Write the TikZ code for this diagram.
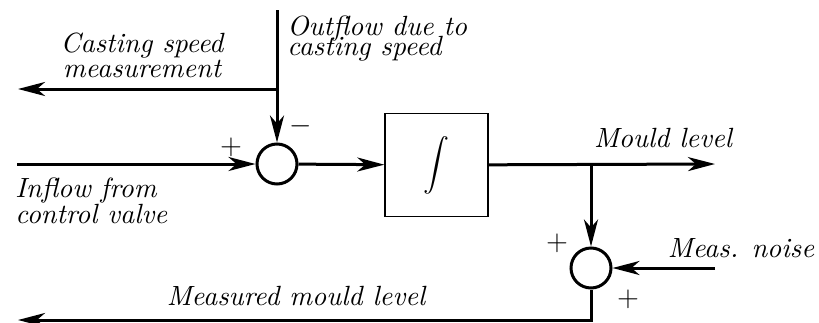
\documentclass[tikz,border=0pt]{standalone}
\usepackage{amsmath}
\usepackage{amssymb}
\usepackage{fontspec}
\usepackage{tikz}
\usetikzlibrary{arrows.meta, shapes, positioning, calc}
\newfontfamily\lblfont{lmroman10-italic.otf}

\begin{document}
\begin{tikzpicture}[x=0.5pt, y=-0.5pt,
  sig/.style={line width=1.5pt, -{Stealth[length=13.5pt,width=7pt,inset=4pt]}},
  sumnode/.style={circle, draw, line width=1.5pt, minimum size=20pt, inner sep=0pt},
  intbox/.style={draw, line width=0.7pt, minimum size=51.5pt, inner sep=0pt, font=\fontsize{13}{15}\selectfont},
  lbl/.style={inner sep=0pt, font=\lblfont\fontsize{13.9}{16.7}\selectfont},
  sgn/.style={inner sep=0pt, font=\fontsize{13.9}{16.7}\selectfont}]
\useasboundingbox (0,0) rectangle (819,322);

% blocks
\node[sumnode] (sum1) at (277,164) {};
\node[intbox] (integ) at (436.5,165) {$\displaystyle\int$};
\node[sumnode] (sum2) at (591,268) {};

% free ends
\coordinate (outtop) at (277,10);
\coordinate (csm) at (18,89);
\coordinate (inflow) at (17,164);
\coordinate (mould) at (715,164);
\coordinate (noise) at (715,268);
\coordinate (meas) at (18,320);

% signals
\draw[sig] (outtop) -- (sum1);
\draw[sig] (outtop |- csm) -- (csm);
\draw[sig] (inflow) -- (sum1);
\draw[sig] (sum1) -- (integ);
\draw[sig] (integ) -- (mould);
\draw[sig] (integ.east -| sum2) -- (sum2);
\draw[sig] (noise) -- (sum2);
\draw[sig] (sum2) |- (meas);

% signs
\node[sgn] (p1) at (231,147) {$+$};
\node[sgn] (m1) at (301,126) {$-$};
\node[sgn] (p2) at (557,243) {$+$};
\node[sgn] (p3) at (628,299) {$+$};

% labels
\node[lbl, align=left, anchor=north west] (outlbl) at (287,15) {Outflow due to\\[-6.6pt]casting speed};
\node[lbl, align=center, anchor=north] (csmlbl) at (142,32) {Casting speed\\[-4pt]measurement};
\node[lbl, align=left, anchor=north west] (inlbl) at (15,177) {Inflow from\\[-3.5pt]control valve};
\node[lbl, anchor=base] (mouldlbl) at (663,147) {Mould level};
\node[lbl, anchor=base] (noiselbl) at (741,257) {Meas. noise};
\node[lbl, anchor=base] (measlbl) at (296,305) {Measured mould level};
\end{tikzpicture}
\end{document}
